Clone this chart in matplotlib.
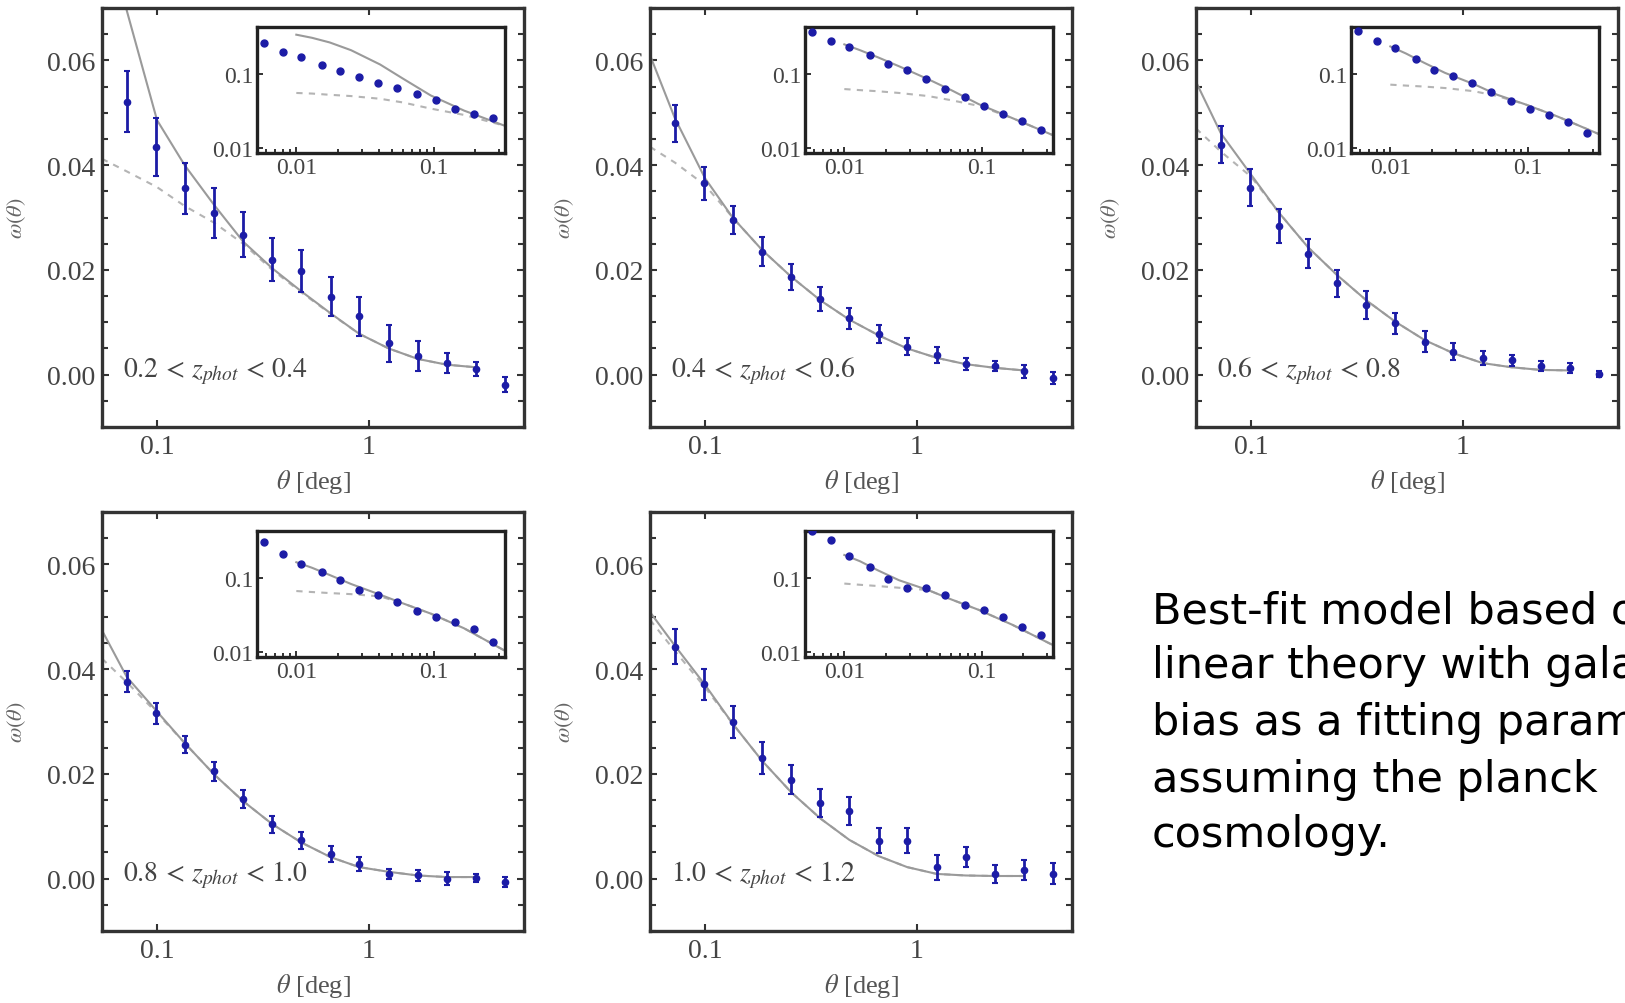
import matplotlib
matplotlib.use("Agg")
import matplotlib.pyplot as plt
from matplotlib.ticker import FixedLocator, NullLocator, MultipleLocator, LogLocator, NullFormatter

plt.rcParams['mathtext.fontset'] = 'stix'
plt.rcParams['font.family'] = ['Liberation Serif', 'DejaVu Serif']

# ---------------- data ----------------
theta_main = [0.072, 0.099, 0.135, 0.186, 0.255, 0.350, 0.480, 0.660, 0.900, 1.24, 1.70, 2.33, 3.20, 4.38]
theta_inset = [0.0058, 0.0080, 0.0109, 0.0153, 0.0207, 0.0286, 0.0394, 0.0544, 0.0750, 0.1035, 0.143, 0.197, 0.272]
theta_model = [0.055, 0.072, 0.1, 0.135, 0.186, 0.255, 0.35, 0.48, 0.66, 0.9, 1.24, 1.7, 2.33, 3.2]
theta_model_inset = [0.01, 0.013, 0.0175, 0.025, 0.0407, 0.06, 0.095, 0.166, 0.33]

z_labels = [r'$0.2\,<\,z_{phot}\,<\,0.4$', r'$0.4\,<\,z_{phot}\,<\,0.6$', r'$0.6\,<\,z_{phot}\,<\,0.8$',
            r'$0.8\,<\,z_{phot}\,<\,1.0$', r'$1.0\,<\,z_{phot}\,<\,1.2$']

w1 = [0.0521, 0.0435, 0.0356, 0.0308, 0.0267, 0.0219, 0.0197, 0.0149, 0.0111, 0.0060, 0.0035, 0.0022, 0.0011, -0.0019]
e1 = [0.0058, 0.0055, 0.0049, 0.0048, 0.0043, 0.0041, 0.0040, 0.0038, 0.0038, 0.0035, 0.0029, 0.0019, 0.0013, 0.0014]
w2 = [0.0480, 0.0365, 0.0295, 0.0235, 0.0186, 0.0144, 0.0108, 0.0078, 0.0053, 0.0038, 0.0020, 0.0016, 0.0006, -0.0006]
e2 = [0.0035, 0.0032, 0.0027, 0.0027, 0.0025, 0.0023, 0.0020, 0.0017, 0.0016, 0.0015, 0.0011, 0.0010, 0.0012, 0.0011]
w3 = [0.0439, 0.0357, 0.0284, 0.0231, 0.0174, 0.0133, 0.0098, 0.0063, 0.0044, 0.0032, 0.0027, 0.0016, 0.0013, 0.0001]
e3 = [0.0035, 0.0035, 0.0032, 0.0028, 0.0025, 0.0027, 0.0020, 0.0020, 0.0017, 0.0014, 0.0010, 0.0010, 0.0009, 0.0006]
w4 = [0.0376, 0.0316, 0.0256, 0.0205, 0.0152, 0.0104, 0.0073, 0.0047, 0.0028, 0.0009, 0.0006, 0.0000, 0.0001, -0.0006]
e4 = [0.0020, 0.0020, 0.0017, 0.0018, 0.0018, 0.0016, 0.0016, 0.0015, 0.0013, 0.0010, 0.0010, 0.0012, 0.0008, 0.0010]
w5 = [0.0443, 0.0371, 0.0299, 0.0230, 0.0189, 0.0145, 0.0129, 0.0072, 0.0072, 0.0022, 0.0041, 0.0009, 0.0016, 0.0009]
e5 = [0.0034, 0.0030, 0.0031, 0.0030, 0.0027, 0.0027, 0.0027, 0.0024, 0.0024, 0.0024, 0.0019, 0.0017, 0.0019, 0.0020]

# nonlinear (solid) and linear (dashed) model curves, main panels
s1 = [0.0950, 0.0695, 0.0486, 0.0400, 0.0324, 0.0254, 0.0203, 0.0159, 0.0117, 0.0078, 0.0050, 0.0030, 0.0019, 0.0014]
d1 = [0.0412, 0.0388, 0.0358, 0.0322, 0.0290, 0.0250, 0.0200, 0.0157, 0.0116, 0.0078, 0.0050, 0.0030, 0.0019, 0.0014]
s2 = [0.0610, 0.0490, 0.0375, 0.0300, 0.0238, 0.0187, 0.0142, 0.0105, 0.0075, 0.0050, 0.0032, 0.0020, 0.0013, 0.0008]
d2 = [0.0435, 0.0405, 0.0362, 0.0300, 0.0238, 0.0187, 0.0142, 0.0105, 0.0075, 0.0050, 0.0032, 0.0020, 0.0013, 0.0008]
s3 = [0.0559, 0.0461, 0.0382, 0.0310, 0.0243, 0.0190, 0.0142, 0.0101, 0.0066, 0.0041, 0.0022, 0.0014, 0.0009, 0.0008]
d3 = [0.0470, 0.0426, 0.0378, 0.0310, 0.0243, 0.0190, 0.0142, 0.0101, 0.0066, 0.0041, 0.0022, 0.0014, 0.0009, 0.0008]
s4 = [0.0474, 0.0385, 0.0319, 0.0259, 0.0199, 0.0148, 0.0104, 0.0069, 0.0041, 0.0022, 0.0013, 0.0006, 0.0003, 0.0003]
d4 = [0.0420, 0.0375, 0.0316, 0.0259, 0.0199, 0.0148, 0.0104, 0.0069, 0.0041, 0.0022, 0.0013, 0.0006, 0.0003, 0.0003]
s5 = [0.0509, 0.0445, 0.0370, 0.0296, 0.0225, 0.0165, 0.0115, 0.0074, 0.0043, 0.0022, 0.0009, 0.0006, 0.0005, 0.0005]
d5 = [0.0494, 0.0435, 0.0365, 0.0296, 0.0225, 0.0165, 0.0115, 0.0074, 0.0043, 0.0022, 0.0009, 0.0006, 0.0005, 0.0005]

# inset data (small scales, log-log)
i1 = [0.255, 0.196, 0.166, 0.129, 0.109, 0.091, 0.075, 0.064, 0.053, 0.0437, 0.0335, 0.0292, 0.0258]
i2 = [0.36, 0.27, 0.227, 0.176, 0.136, 0.111, 0.0858, 0.0618, 0.0489, 0.0367, 0.0284, 0.0231, 0.0176]
i3 = [0.366, 0.27, 0.216, 0.155, 0.111, 0.093, 0.0736, 0.0558, 0.0432, 0.0341, 0.0278, 0.0227, 0.0163]
i4 = [0.30, 0.208, 0.152, 0.117, 0.092, 0.0672, 0.058, 0.0466, 0.0359, 0.030, 0.0251, 0.0204, 0.0137]
i5 = [0.42, 0.316, 0.191, 0.137, 0.097, 0.073, 0.0716, 0.0593, 0.0424, 0.037, 0.030, 0.0219, 0.0169]

si1 = [0.33, 0.30, 0.26, 0.205, 0.132, 0.085, 0.051, 0.032, 0.020]
di1 = [0.055, 0.054, 0.052, 0.050, 0.046, 0.041, 0.034, 0.028, 0.020]
si2 = [0.245, 0.205, 0.165, 0.125, 0.084, 0.060, 0.039, 0.0255, 0.015]
di2 = [0.062, 0.060, 0.058, 0.055, 0.050, 0.044, 0.037, 0.0255, 0.015]
si3 = [0.23, 0.185, 0.14, 0.102, 0.072, 0.052, 0.039, 0.0265, 0.0155]
di3 = [0.071, 0.069, 0.067, 0.064, 0.058, 0.050, 0.039, 0.0265, 0.0155]
si4 = [0.16, 0.135, 0.108, 0.082, 0.059, 0.045, 0.033, 0.021, 0.0105]
di4 = [0.066, 0.064, 0.062, 0.060, 0.056, 0.045, 0.033, 0.021, 0.0105]
si5 = [0.20, 0.165, 0.125, 0.092, 0.068, 0.051, 0.037, 0.0235, 0.0125]
di5 = [0.083, 0.080, 0.077, 0.073, 0.068, 0.051, 0.037, 0.0235, 0.0125]

y_ticks = [0.00, 0.02, 0.04, 0.06]
y_ticklabels = ['0.00', '0.02', '0.04', '0.06']
x_ticks = [0.1, 1]
x_ticklabels = ['0.1', '1']
inset_ticks = [0.01, 0.1]
inset_ticklabels = ['0.01', '0.1']

caption_lines = ["Best-fit model based on", "linear theory with galaxy",
                 "bias as a fitting parameter", "assuming the planck", "cosmology."]

panels = [
    (w1, e1, s1, d1, i1, si1, di1),
    (w2, e2, s2, d2, i2, si2, di2),
    (w3, e3, s3, d3, i3, si3, di3),
    (w4, e4, s4, d4, i4, si4, di4),
    (w5, e5, s5, d5, i5, si5, di5),
]

# ---------------- figure ----------------
W, H = 1625, 1004
fig = plt.figure(figsize=(W / 100, H / 100), dpi=100)
fig.patch.set_facecolor('white')

pw, ph = 422, 419
corners = [(102, 9), (650, 9), (1196, 9), (102, 513), (650, 513)]

BLUE = '#1c1ca6'
SOLID = '#9a9a9a'
DASH = '#b4b4b4'
TXT = '#444444'
SPINE = '#333333'

for k, ((w, e, s, d, wi, si, di), (lx, ty)) in enumerate(zip(panels, corners)):
    ax = fig.add_axes([lx / W, 1 - (ty + ph) / H, pw / W, ph / H])
    ax.set_xscale('log')
    ax.plot(theta_model, d, color=DASH, lw=1.5, ls=(0, (3, 3)), zorder=2)
    ax.plot(theta_model, s, color=SOLID, lw=1.5, zorder=2)
    ax.errorbar(theta_main, w, yerr=e, fmt='o', ms=4.5, color=BLUE, ecolor=BLUE,
                elinewidth=2, capsize=2.5, capthick=1.5, zorder=3)
    ax.set_xlim(0.055, 5.4)
    ax.set_ylim(-0.01, 0.07)
    ax.xaxis.set_major_locator(FixedLocator(x_ticks))
    ax.set_xticklabels(x_ticklabels)
    ax.xaxis.set_minor_locator(NullLocator())
    ax.yaxis.set_major_locator(FixedLocator(y_ticks))
    ax.set_yticklabels(y_ticklabels)
    ax.yaxis.set_minor_locator(MultipleLocator(0.005))
    ax.tick_params(which='both', direction='in', top=True, right=True,
                   labelsize=20, labelcolor=TXT, color=SPINE, width=1.5)
    ax.tick_params(which='major', length=5, pad=5)
    ax.tick_params(which='minor', length=4)
    for sp in ax.spines.values():
        sp.set_linewidth(2.4)
        sp.set_color(SPINE)
    ax.set_ylabel(r'$\omega(\theta)$', fontsize=16, color='#666666')
    ax.yaxis.set_label_coords(-0.175, 0.5)
    ax.set_xlabel(r'$\theta$ [deg]', fontsize=19, color='#555555')
    ax.xaxis.set_label_coords(0.5, -0.095)
    ax.text(0.05, 0.135, z_labels[k], transform=ax.transAxes, fontsize=20,
            color='#444444', va='center', ha='left')

    axi = ax.inset_axes([0.368, 0.655, 0.587, 0.30])
    axi.set_xscale('log')
    axi.set_yscale('log')
    axi.plot(theta_model_inset, di, color=DASH, lw=1.5, ls=(0, (3, 3)), zorder=2)
    axi.plot(theta_model_inset, si, color=SOLID, lw=1.5, zorder=2)
    axi.plot(theta_inset, wi, 'o', ms=5, color=BLUE, zorder=3)
    axi.set_xlim(0.0052, 0.33)
    axi.set_ylim(0.0088, 0.42)
    axi.xaxis.set_major_locator(FixedLocator(inset_ticks))
    axi.set_xticklabels(inset_ticklabels)
    axi.xaxis.set_minor_locator(LogLocator(base=10, subs=[2, 3, 4, 5, 6, 7, 8, 9]))
    axi.xaxis.set_minor_formatter(NullFormatter())
    axi.yaxis.set_major_locator(FixedLocator(inset_ticks))
    axi.set_yticklabels(inset_ticklabels)
    axi.yaxis.set_minor_locator(NullLocator())
    axi.tick_params(which='both', direction='in', labelsize=17, labelcolor=TXT,
                    color='#222222', width=1.3)
    axi.tick_params(which='major', length=4, pad=3)
    axi.tick_params(which='minor', length=3)
    for sp in axi.spines.values():
        sp.set_linewidth(2.4)
        sp.set_color('#222222')

baselines = [623, 678, 735, 792, 847]
for line, yb in zip(caption_lines, baselines):
    fig.text(1152 / W, 1 - yb / H, line, fontsize=31, family='DejaVu Sans',
             color='black', ha='left', va='baseline')

fig.savefig('out.png', dpi=100, facecolor='white')
